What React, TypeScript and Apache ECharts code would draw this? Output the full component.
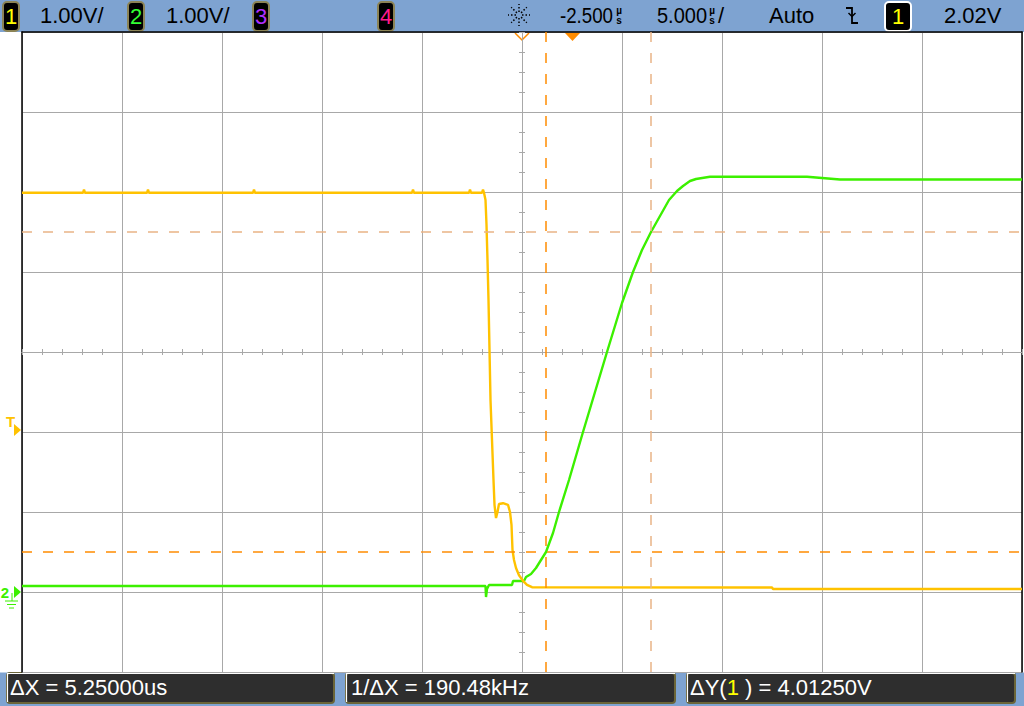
import React, { useEffect, useRef } from 'react';
import * as echarts from 'echarts';

// Channel 1 (yellow): [time in µs, volts]
const ch1Points: [number, number][] = [
  [-27.5, 4.99],
  [-24.45, 4.99], [-24.4, 5.03], [-24.35, 4.99],
  [-21.25, 4.99], [-21.2, 5.03], [-21.15, 4.99],
  [-15.95, 4.99], [-15.9, 5.03], [-15.85, 4.99],
  [-8.0, 4.99], [-7.95, 5.03], [-7.9, 4.99],
  [-5.15, 4.99], [-5.1, 5.03], [-5.05, 4.99],
  [-4.5, 4.99], [-4.45, 5.03], [-4.4, 4.99],
  [-4.325, 4.9], [-4.275, 4.59], [-4.225, 4.15], [-4.175, 3.65], [-4.125, 3.03],
  [-4.075, 2.4], [-4.0, 1.9], [-3.925, 1.4], [-3.875, 1.09], [-3.8, 0.925],
  [-3.725, 1.0], [-3.65, 1.1], [-3.45, 1.11], [-3.2, 1.09], [-3.1, 1.0],
  [-3.025, 0.84], [-2.975, 0.525], [-2.9, 0.4], [-2.8, 0.3], [-2.65, 0.21],
  [-2.45, 0.14], [-2.25, 0.09], [-2.0, 0.06],
  [10.0, 0.056], [10.05, 0.0375], [22.5, 0.0375],
];

// Channel 2 (green): [time in µs, volts]
const ch2Points: [number, number][] = [
  [-27.5, 0.075], [-4.325, 0.075], [-4.3, -0.0625], [-4.25, 0.0375], [-4.15, 0.0875],
  [-3.0, 0.0875], [-2.95, 0.1375], [-2.4, 0.1375], [-2.3, 0.1875], [-2.05, 0.225],
  [-1.8, 0.3], [-1.55, 0.4], [-1.3, 0.5], [-0.95, 0.7375], [-0.65, 1.0],
  [-0.15, 1.4], [0.55, 2.0], [1.15, 2.5], [1.75, 3.0], [2.5, 3.6125],
  [3.05, 4.0], [3.5, 4.275], [3.95, 4.5], [4.4, 4.7], [4.85, 4.9],
  [5.25, 5.0125], [5.55, 5.075], [5.9, 5.1375], [6.2, 5.1625], [6.9, 5.19],
  [11.75, 5.19], [13.4, 5.156], [22.5, 5.156],
];

const cursorX = [-1.3, 3.95]; // µs
const cursorY = [0.5, 4.5]; // V

const timeRange = [-27.5, 22.5];
const voltRange = [-1, 7];

const channelScales = ['1.00V/', '1.00V/'];
const timeDelay = '-2.500';
const timeBase = '5.000';
const triggerMode = 'Auto';
const triggerLevel = '2.02V';
const readouts = ['ΔX = 5.25000us', '1/ΔX = 190.48kHz'];
const deltaYText = ' ) = 4.01250V';

const BLUE = '#7ea3d1';
const YELLOW = '#ffc200';
const GREEN = '#3cf000';
const ORANGE = '#ff8c00';
const LIGHT_ORANGE = '#e9b486';
const GRID = '#a8a8a8';
const FONT = '"Liberation Sans", Arial, sans-serif';

function txt(x: number, y: number, text: string, fill: string, fontSize = 22, extra: any = {}) {
  return {
    type: 'text',
    x,
    y,
    ...extra,
    style: {
      text,
      fill,
      fontSize,
      fontFamily: FONT,
      fontWeight: extra.fontWeight || 'normal',
      textAlign: extra.align || 'left',
      textVerticalAlign: 'middle',
      align: extra.align || 'left',
      verticalAlign: 'middle',
    },
  };
}

function chBox(x: number, label: string, color: string, stroke: string) {
  return [
    {
      type: 'rect',
      shape: { x, y: 2, width: 16, height: 29, r: 4 },
      style: { fill: '#000', stroke, lineWidth: 2 },
    },
    txt(x + 8, 16, label, color, 22, { align: 'center' }),
  ];
}

function readBox(x: number, w: number) {
  return [
    {
      type: 'rect',
      shape: { x, y: 673, width: w, height: 30, r: 3 },
      style: { fill: '#2e2e2e', stroke: '#6b6538', lineWidth: 2 },
    },
    {
      type: 'polyline',
      shape: { points: [[x + 0.5, 702], [x + 0.5, 673.5], [x + w, 673.5]] },
      style: { stroke: '#ffffff', lineWidth: 1.2, fill: null },
    },
  ];
}

function sunIcon(cx: number, cy: number) {
  const els: any[] = [];
  const dirs = [0, 45, 90, 135, 180, 225, 270, 315];
  dirs.forEach((d) => {
    const a = (d * Math.PI) / 180;
    els.push({
      type: 'line',
      shape: {
        x1: cx + Math.cos(a) * 3,
        y1: cy + Math.sin(a) * 3,
        x2: cx + Math.cos(a) * 11,
        y2: cy + Math.sin(a) * 11,
      },
      style: { stroke: '#000', lineWidth: 1.5, lineDash: [1.5, 2] },
    });
  });
  return els;
}

export default function App() {
  const ref = useRef<HTMLDivElement>(null);

  useEffect(() => {
    if (!ref.current) return;
    const chart = echarts.init(ref.current, undefined, { renderer: 'svg' });

    const hidden = { show: false };
    const tickAxisX = (inside: boolean) => ({
      type: 'value',
      min: -5,
      max: 5,
      interval: 0.2,
      position: 'bottom',
      axisLine: { show: true, onZero: true, onZeroAxisIndex: 2, lineStyle: { color: GRID, width: 1 } },
      axisTick: { show: true, inside, length: 3, lineStyle: { color: GRID, width: 1 } },
      axisLabel: hidden,
      splitLine: hidden,
    });
    const tickAxisY = (inside: boolean) => ({
      type: 'value',
      min: -4,
      max: 4,
      interval: 0.25,
      position: 'left',
      axisLine: { show: true, onZero: true, onZeroAxisIndex: 2, lineStyle: { color: GRID, width: 1 } },
      axisTick: { show: true, inside, length: 3, lineStyle: { color: GRID, width: 1 } },
      axisLabel: hidden,
      splitLine: hidden,
    });

    const graphic: any[] = [
      { type: 'rect', shape: { x: 0, y: 0, width: 1024, height: 32 }, style: { fill: BLUE } },
      { type: 'rect', shape: { x: 0, y: 672.5, width: 1024, height: 34 }, style: { fill: BLUE } },
      ...chBox(3, '1', '#ffff00', '#8c8456'),
      txt(40, 15, channelScales[0], '#000'),
      ...chBox(128, '2', '#33ff33', '#8c8456'),
      txt(166, 15, channelScales[1], '#000'),
      ...chBox(253, '3', '#b030ff', '#8c8456'),
      ...chBox(378, '4', '#ff1a8c', '#8c8456'),
      ...sunIcon(519, 15),
      txt(560, 15, timeDelay, '#000', 22, { scaleX: 0.85 }),
      txt(619, 10, 'µ', '#000', 10, { align: 'center', fontWeight: 'bold' }),
      txt(619, 20, 's', '#000', 10, { align: 'center', fontWeight: 'bold' }),
      txt(657, 15, timeBase, '#000', 22, { scaleX: 0.91 }),
      txt(712, 10, 'µ', '#000', 10, { align: 'center', fontWeight: 'bold' }),
      txt(712, 20, 's', '#000', 10, { align: 'center', fontWeight: 'bold' }),
      txt(718, 15, '/', '#000'),
      txt(769, 15, triggerMode, '#000'),
      {
        type: 'polyline',
        shape: { points: [[846, 8], [852, 8], [852, 23], [858, 23]] },
        style: { stroke: '#000', lineWidth: 1.8, fill: null },
      },
      {
        type: 'polyline',
        shape: { points: [[848.5, 13], [852, 16.5], [855.5, 13]] },
        style: { stroke: '#000', lineWidth: 1.5, fill: null },
      },
      {
        type: 'rect',
        shape: { x: 885, y: 2, width: 26, height: 29, r: 4 },
        style: { fill: '#000', stroke: '#ffffff', lineWidth: 2 },
      },
      txt(898, 16, '1', '#ffff00', 22, { align: 'center' }),
      txt(944, 15, triggerLevel, '#000'),
      // top markers
      {
        type: 'polyline',
        shape: { points: [[515, 33], [522, 40], [529, 33]] },
        style: { stroke: ORANGE, lineWidth: 1.5, fill: null },
      },
      {
        type: 'polygon',
        shape: { points: [[565, 33], [580, 33], [572.5, 41]] },
        style: { fill: ORANGE },
      },
      // left markers
      txt(10.5, 421, 'T', YELLOW, 15, { align: 'center', fontWeight: 'bold' }),
      { type: 'polygon', shape: { points: [[14, 424], [21, 430], [14, 436]] }, style: { fill: YELLOW } },
      txt(5, 592, '2', GREEN, 15, { align: 'center', fontWeight: 'bold' }),
      { type: 'polygon', shape: { points: [[14, 586], [21, 592], [14, 598]] }, style: { fill: GREEN } },
      { type: 'line', shape: { x1: 12, y1: 593, x2: 12, y2: 601 }, style: { stroke: GREEN, lineWidth: 1 } },
      { type: 'line', shape: { x1: 5, y1: 601, x2: 18, y2: 601 }, style: { stroke: GREEN, lineWidth: 1 } },
      { type: 'line', shape: { x1: 7, y1: 604.5, x2: 16, y2: 604.5 }, style: { stroke: GREEN, lineWidth: 1 } },
      { type: 'line', shape: { x1: 9, y1: 608, x2: 14, y2: 608 }, style: { stroke: GREEN, lineWidth: 1 } },
      // bottom readouts
      ...readBox(7, 327),
      txt(10, 687, readouts[0], '#fff'),
      ...readBox(346, 329),
      txt(351, 687, readouts[1], '#fff'),
      ...readBox(687, 328),
      {
        type: 'text',
        x: 690,
        y: 687,
        style: {
          text: '{a|ΔY(}{b|1}{a|' + deltaYText + '}',
          textVerticalAlign: 'middle',
          verticalAlign: 'middle',
          rich: {
            a: { fill: '#fff', color: '#fff', fontSize: 22, fontFamily: FONT },
            b: { fill: '#ffff00', color: '#ffff00', fontSize: 22, fontFamily: FONT },
          },
        },
      },
    ];

    chart.setOption({
      animation: false,
      backgroundColor: '#ffffff',
      grid: { left: 22, top: 32, width: 1000, height: 640, show: false },
      xAxis: [
        { type: 'value', min: timeRange[0], max: timeRange[1], show: false },
        {
          type: 'value',
          min: 0,
          max: 10,
          interval: 1,
          position: 'top',
          axisLine: { show: true, onZero: false, lineStyle: { color: '#000', width: 1.5 } },
          axisTick: hidden,
          axisLabel: hidden,
          splitLine: { show: true, lineStyle: { color: GRID, width: 1 } },
        },
        tickAxisX(false),
        tickAxisX(true),
      ],
      yAxis: [
        {
          type: 'value',
          min: voltRange[0],
          max: voltRange[1],
          interval: 1,
          position: 'left',
          axisLine: { show: true, onZero: false, lineStyle: { color: '#000', width: 1.5 } },
          axisTick: hidden,
          axisLabel: hidden,
          splitLine: { show: true, lineStyle: { color: GRID, width: 1 } },
        },
        {
          type: 'value',
          min: voltRange[0],
          max: voltRange[1],
          position: 'right',
          axisLine: { show: true, onZero: false, lineStyle: { color: '#000', width: 1.5 } },
          axisTick: hidden,
          axisLabel: hidden,
          splitLine: hidden,
        },
        tickAxisY(false),
        tickAxisY(true),
      ],
      series: [
        {
          type: 'line',
          name: 'CH2',
          data: ch2Points,
          xAxisIndex: 0,
          yAxisIndex: 0,
          symbol: 'none',
          showSymbol: false,
          lineStyle: { color: GREEN, width: 2.4 },
          itemStyle: { color: GREEN },
          z: 3,
        },
        {
          type: 'line',
          name: 'CH1',
          data: ch1Points,
          xAxisIndex: 0,
          yAxisIndex: 0,
          symbol: 'none',
          showSymbol: false,
          lineStyle: { color: YELLOW, width: 2.4 },
          itemStyle: { color: YELLOW },
          z: 4,
          markLine: {
            silent: true,
            symbol: ['none', 'none'],
            label: { show: false },
            lineStyle: { type: [10, 11], width: 1.5 },
            data: [
              { xAxis: cursorX[0], lineStyle: { color: ORANGE, type: [10, 11], width: 1.5 } },
              { xAxis: cursorX[1], lineStyle: { color: LIGHT_ORANGE, type: [10, 11], width: 1.5 } },
              { yAxis: cursorY[0], lineStyle: { color: ORANGE, type: [10, 11], width: 1.5 } },
              { yAxis: cursorY[1], lineStyle: { color: LIGHT_ORANGE, type: [10, 11], width: 1.5 } },
            ],
          },
        },
      ],
      graphic,
    });

    return () => chart.dispose();
  }, []);

  return (
    <div
      ref={ref}
      style={{ position: 'fixed', left: 0, top: 0, width: 1024, height: 706 }}
    />
  );
}
